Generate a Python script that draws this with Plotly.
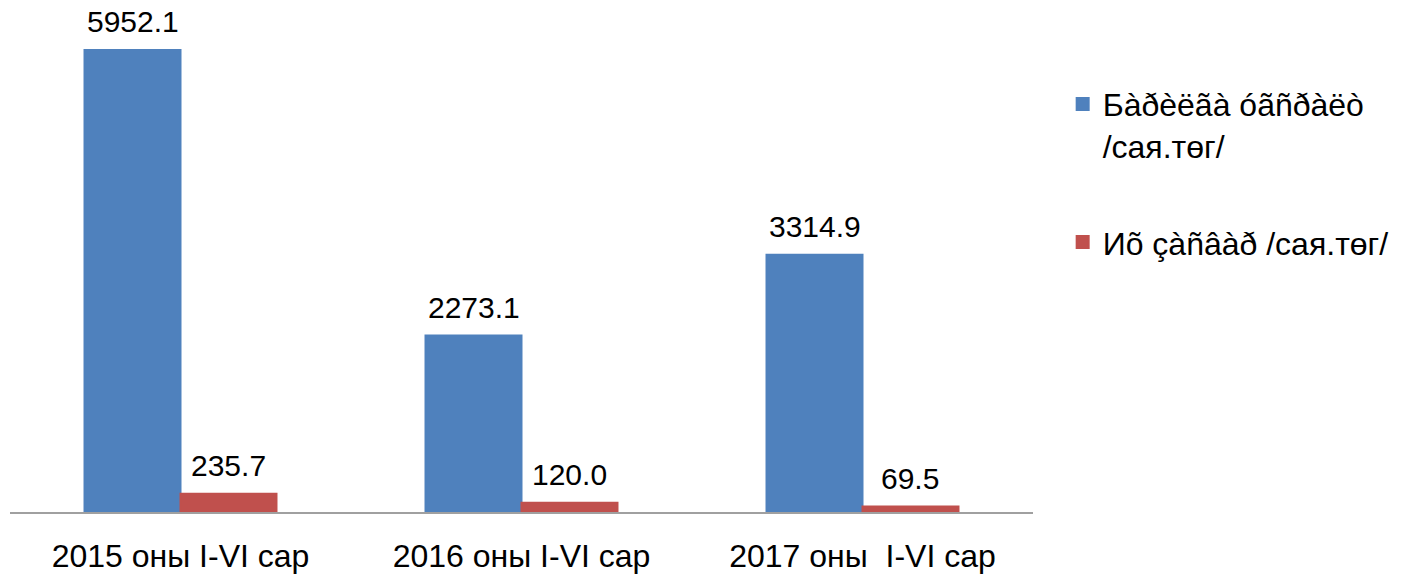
import plotly.graph_objects as go

categories = ["2015 оны I-VI сар", "2016 оны I-VI сар", "2017 оны\u00a0 I-VI сар"]
series1_name = "Бàðèëãà óãñðàëò<br>/сая.төг/"
series1_values = [5952.1, 2273.1, 3314.9]
series2_name = "Иõ çàñâàð /сая.төг/"
series2_values = [235.7, 120.0, 69.5]

FONT = "Liberation Sans, Arial, sans-serif"
BLUE = "#4F81BD"
RED = "#C0504D"

W, H = 1402, 579
ML, MR, MT, MB = 2, 377, 12, 75
BARGAP = 0.437
plot_w = W - ML - MR
cat_px = plot_w / len(categories)
bar_px = cat_px * (1 - BARGAP) / 2
offset_px = bar_px / 2

fig = go.Figure()
fig.add_trace(go.Bar(
    x=categories, y=series1_values, name=series1_name,
    marker=dict(color=BLUE, line=dict(width=2, color=BLUE)),
    legendgroup="a",
))
fig.add_trace(go.Bar(
    x=categories, y=series2_values, name=series2_name,
    marker=dict(color=RED, line=dict(width=2, color=RED)),
    legendgroup="b",
))

annotations = []
for vals, sign in ((series1_values, -1), (series2_values, 1)):
    for cat, v in zip(categories, vals):
        annotations.append(dict(
            x=cat, y=v, xref="x", yref="y", text=f"{v:.1f}",
            showarrow=False, xanchor="center", yanchor="bottom",
            xshift=sign * offset_px, yshift=10,
            font=dict(size=30, family=FONT, color="black"),
        ))

fig.update_layout(
    width=W, height=H,
    margin=dict(l=ML, r=MR, t=MT, b=MB),
    paper_bgcolor="white", plot_bgcolor="white",
    barmode="group", bargap=BARGAP, bargroupgap=0,
    font=dict(family=FONT, size=30, color="black"),
    showlegend=True,
    legend=dict(
        x=1.029, xanchor="left", y=0.885, yanchor="top",
        valign="top", tracegroupgap=52,
        font=dict(size=32, family=FONT, color="black"),
        bgcolor="rgba(0,0,0,0)",
    ),
    xaxis=dict(
        showline=True, linecolor="#a0a0a0", linewidth=2,
        showgrid=False, ticks="", ticklabelstandoff=15,
        tickfont=dict(size=32, family=FONT, color="black"),
    ),
    yaxis=dict(
        range=[0, 6338], visible=False, showgrid=False, zeroline=False,
    ),
    annotations=annotations,
)

fig.write_html("out.html")
